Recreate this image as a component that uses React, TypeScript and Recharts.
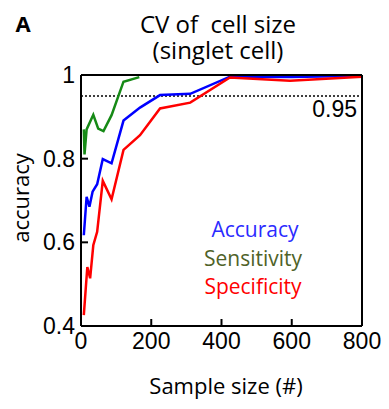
import React from "react";
import {
  LineChart,
  Line,
  XAxis,
  YAxis,
  ReferenceLine,
} from "recharts";

// sample sizes and values
const sensX = [8, 10, 16, 35, 49, 64, 87, 121, 166];
const sensY = [0.87, 0.81, 0.87, 0.905, 0.872, 0.866, 0.904, 0.984, 0.995];

const accX = [8, 16, 24, 33, 46, 62, 87, 121, 168, 225, 311, 424, 600, 800];
const accY = [0.617, 0.709, 0.685, 0.721, 0.739, 0.799, 0.789, 0.891, 0.922, 0.952, 0.955, 0.996, 0.995, 0.998];

const specX = [8, 18, 26, 35, 46, 62, 87, 121, 168, 225, 311, 424, 595, 800];
const specY = [0.426, 0.541, 0.514, 0.593, 0.625, 0.747, 0.703, 0.821, 0.856, 0.92, 0.934, 0.994, 0.986, 0.996];

const xTicks = [0, 200, 400, 600, 800];
const yTicks = [0.4, 0.6, 0.8, 1];
const threshold = 0.95;

const toPoints = (xs: number[], ys: number[]) =>
  xs.map((x, i) => ({ n: x, v: ys[i] }));

const sansText = "'Open Sans', sans-serif";
const tickFont = { fontSize: 23, fontFamily: "'Liberation Sans', Arial, sans-serif", fill: "#000" };

const fmtY = (v: number) => (v === 1 ? "1" : String(v));

const App: React.FC = () => {
  const label = (text: string, left: number, top: number, extra: React.CSSProperties = {}) => (
    <div
      style={{
        position: "absolute",
        left,
        top,
        transform: "translate(-50%, -50%)",
        whiteSpace: "pre",
        fontFamily: sansText,
        fontSize: 21,
        lineHeight: 1,
        color: "#000",
        textAlign: "center",
        ...extra,
      }}
    >
      {text}
    </div>
  );

  return (
    <div style={{ position: "absolute", left: 0, top: 0, width: 389, height: 409, background: "#fff" }}>
      <LineChart
        width={389}
        height={409}
        margin={{ top: 74, right: 26, bottom: 53, left: 21 }}
      >
        <XAxis
          xAxisId="b"
          type="number"
          dataKey="n"
          domain={[0, 800]}
          ticks={xTicks}
          height={30}
          tickSize={-7}
          tickMargin={14}
          axisLine={{ stroke: "#000", strokeWidth: 2 }}
          tickLine={{ stroke: "#000", strokeWidth: 2 }}
          tick={tickFont}
        />
        <XAxis
          xAxisId="t"
          orientation="top"
          type="number"
          dataKey="n"
          domain={[0, 800]}
          ticks={xTicks}
          height={1}
          tickSize={-7}
          tickFormatter={() => ""}
          axisLine={{ stroke: "#000", strokeWidth: 2 }}
          tickLine={{ stroke: "#000", strokeWidth: 2 }}
        />
        <YAxis
          yAxisId="l"
          type="number"
          domain={[0.4, 1]}
          ticks={yTicks}
          width={60}
          tickSize={-7}
          tickMargin={13}
          tickFormatter={fmtY}
          axisLine={{ stroke: "#000", strokeWidth: 2 }}
          tickLine={{ stroke: "#000", strokeWidth: 2 }}
          tick={tickFont}
        />
        <YAxis
          yAxisId="r"
          orientation="right"
          type="number"
          domain={[0.4, 1]}
          ticks={yTicks}
          width={1}
          tickSize={-7}
          tickFormatter={() => ""}
          axisLine={{ stroke: "#000", strokeWidth: 2 }}
          tickLine={{ stroke: "#000", strokeWidth: 2 }}
        />
        <ReferenceLine
          xAxisId="b"
          yAxisId="l"
          y={threshold}
          stroke="#000"
          strokeWidth={1.5}
          strokeDasharray="2 2"
          label={{
            value: "0.95",
            position: "insideTopRight",
            offset: 5,
            style: tickFont,
          }}
        />
        <Line
          xAxisId="b"
          yAxisId="l"
          data={toPoints(sensX, sensY)}
          dataKey="v"
          stroke="#168a16"
          strokeWidth={2.5}
          dot={false}
          isAnimationActive={false}
        />
        <Line
          xAxisId="b"
          yAxisId="l"
          data={toPoints(accX, accY)}
          dataKey="v"
          stroke="#0000ff"
          strokeWidth={2.5}
          dot={false}
          isAnimationActive={false}
        />
        <Line
          xAxisId="b"
          yAxisId="l"
          data={toPoints(specX, specY)}
          dataKey="v"
          stroke="#ff0000"
          strokeWidth={2.5}
          dot={false}
          isAnimationActive={false}
        />
      </LineChart>

      {label("A", 23, 23, { fontWeight: 700, fontSize: 22 })}
      {label("CV of  cell size\n(singlet cell)", 218, 37, { fontSize: 24, lineHeight: "26px" })}
      {label("accuracy", 20, 198, { fontSize: 22, transform: "translate(-50%, -50%) rotate(-90deg)" })}
      {label("Sample size (#)", 226, 385, { fontSize: 22 })}
      {label("Accuracy", 255, 229, { color: "#2b2bff" })}
      {label("Sensitivity", 253, 258, { color: "#4f6228" })}
      {label("Specificity", 253, 286, { color: "#ff0000" })}
    </div>
  );
};

export default App;
